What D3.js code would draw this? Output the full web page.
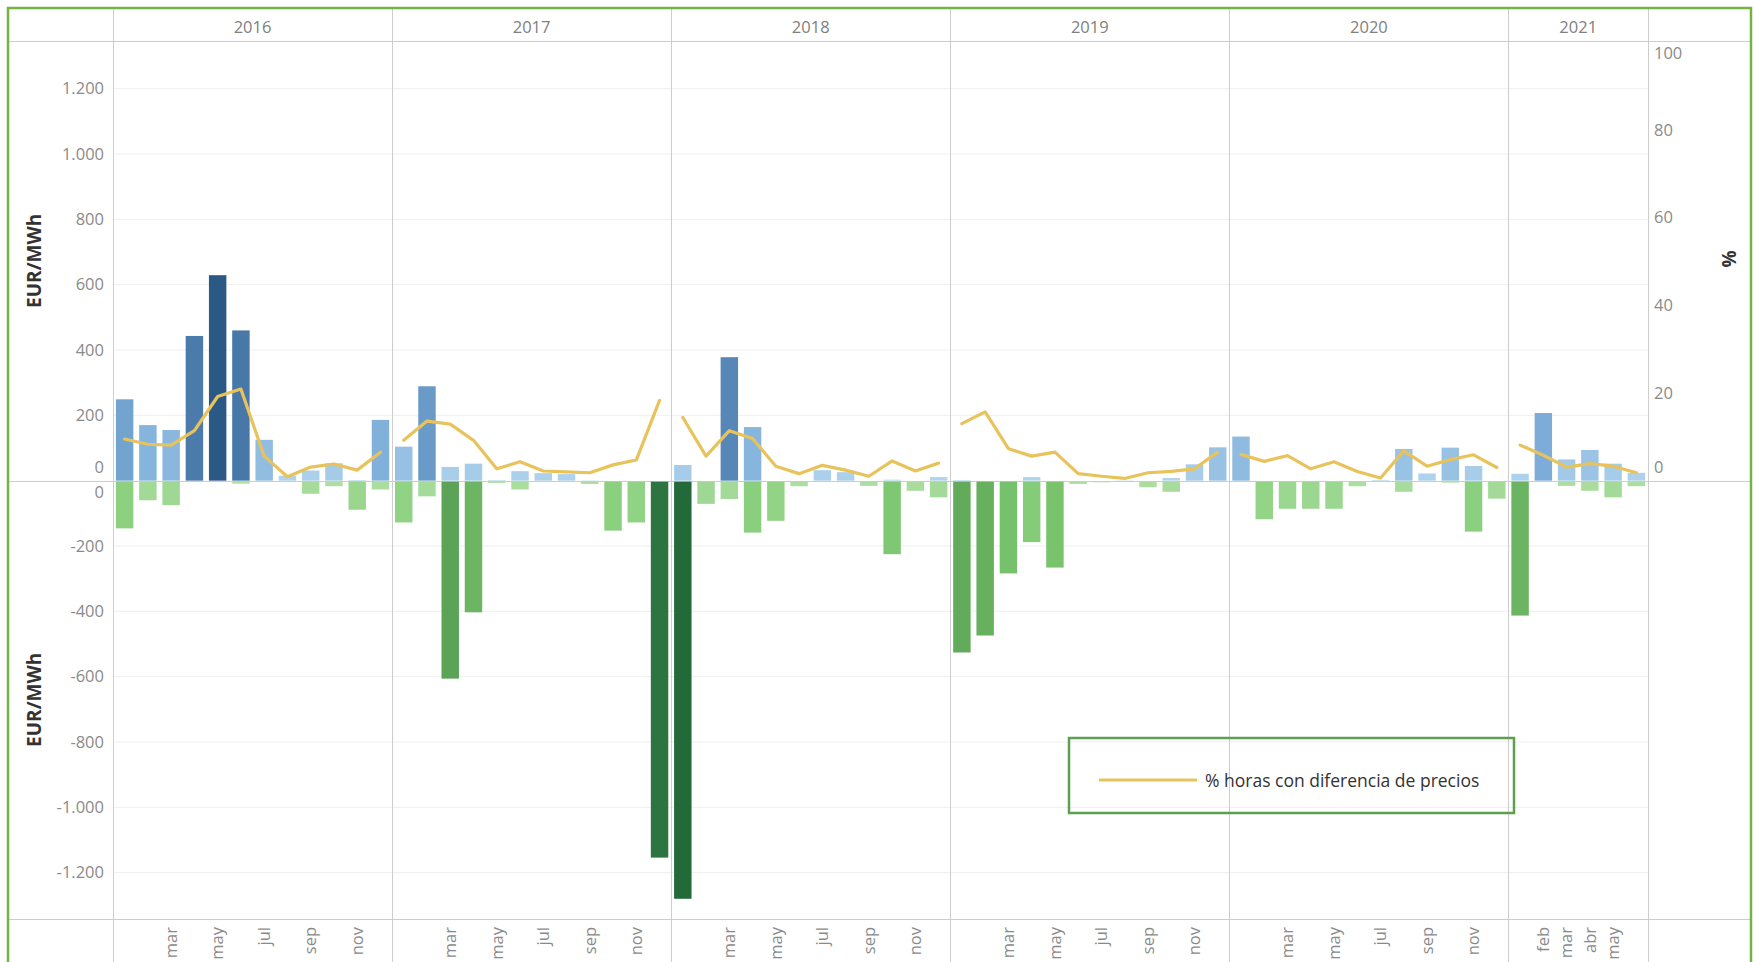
<!DOCTYPE html>
<html>
<head>
<meta charset="utf-8">
<script src="https://cdn.jsdelivr.net/npm/d3@7"></script>
<style>
  html, body { margin: 0; padding: 0; background: #fff; }
  svg { display: block; font-family: "Open Sans", "Noto Sans", sans-serif; }
</style>
</head>
<body>
<svg id="chart" width="1754" height="962"></svg>
<script>
// ---- data -------------------------------------------------------------
const years = [2016, 2017, 2018, 2019, 2020, 2021];
const monthsPerYear = [12, 12, 12, 12, 12, 6];
const monthNames = ["ene", "feb", "mar", "abr", "may", "jun", "jul", "ago", "sep", "oct", "nov", "dic"];

// months whose name is printed under the axis
const labeledMonths = [
  "2016-03", "2016-05", "2016-07", "2016-09", "2016-11",
  "2017-03", "2017-05", "2017-07", "2017-09", "2017-11",
  "2018-03", "2018-05", "2018-07", "2018-09", "2018-11",
  "2019-03", "2019-05", "2019-07", "2019-09", "2019-11",
  "2020-03", "2020-05", "2020-07", "2020-09", "2020-11",
  "2021-02", "2021-03", "2021-04", "2021-05"
];

// EUR/MWh, positive monthly price difference
const positiveDiff = [
  249, 170, 155, 443, 629, 460, 125, 15, 31, 53, 2, 186,   // 2016
  104, 289, 42, 52, 2, 29, 23, 20, 1, 0, 0, 0,             // 2017
  48, 0, 378, 164, 0, 0, 32, 26, 0, 3, 0, 11,              // 2018
  2, 0, 0, 11, 0, 0, 0, 1, 0, 8, 50, 102,                  // 2019
  135, 0, 0, 0, 0, 0, 2, 97, 22, 101, 45, 0,               // 2020
  21, 207, 65, 94, 52, 24                                  // 2021
];

// EUR/MWh, negative monthly price difference
const negativeDiff = [
  -143, -57, -72, 0, -1, -6, 0, 0, -37, -14, -86, -24,             // 2016
  -125, -45, -603, -400, -4, -24, -1, 0, -7, -150, -125, -1151,    // 2017
  -1277, -68, -53, -156, -120, -14, 0, 0, -13, -222, -28, -48,     // 2018
  -523, -471, -281, -185, -263, -7, -2, 0, -17, -31, 0, 0,         // 2019
  0, -115, -83, -83, -83, -14, 0, -31, 0, -3, -153, -52,           // 2020
  -410, 0, -13, -28, -48, -14                                      // 2021
];

// % of hours with a price difference
const pctHours = [
  9.5, 8.3, 8.1, 11.4, 19.2, 20.9, 5.6, 0.9, 3.1, 3.8, 2.4, 6.5,     // 2016
  9.2, 13.6, 12.9, 9.2, 2.7, 4.3, 2.2, 2.0, 1.8, 3.6, 4.7, 18.3,     // 2017
  14.4, 5.6, 11.4, 9.6, 3.3, 1.6, 3.5, 2.4, 1.0, 4.5, 2.2, 4.0,      // 2018
  13.0, 15.7, 7.3, 5.6, 6.5, 1.6, 1.0, 0.5, 1.8, 2.1, 2.7, 6.5,      // 2019
  6.0, 4.4, 5.7, 2.7, 4.3, 2.1, 0.6, 6.8, 3.3, 4.8, 5.9, 3.0,        // 2020
  8.1, 5.8, 3.1, 3.9, 3.3, 1.8                                       // 2021
];

const ticksTop = [0, 200, 400, 600, 800, 1000, 1200];
const ticksBottom = [0, -200, -400, -600, -800, -1000, -1200];
const ticksPct = [0, 20, 40, 60, 80, 100];
const axisTitle = "EUR/MWh";
const pctTitle = "%";
const legendLabel = "% horas con diferencia de precios";

// ---- build month records ---------------------------------------------
const months = [];
years.forEach((yr, yi) => {
  for (let m = 0; m < monthsPerYear[yi]; m++) {
    months.push({ year: yr, month: m, key: `${yr}-${String(m + 1).padStart(2, "0")}` });
  }
});
months.forEach((d, i) => {
  d.pos = positiveDiff[i];
  d.neg = negativeDiff[i];
  d.pct = pctHours[i];
});

// ---- layout -----------------------------------------------------------
const W = 1754, H = 962;
const frame = { left: 8, right: 1751, top: 8 };
const plot = { left: 113, right: 1648, top: 41, bottom: 919 };

const svg = d3.select("#chart");

const x = d3.scaleBand()
  .domain(months.map(d => d.key))
  .range([plot.left, plot.right])
  .paddingInner(0.25)
  .paddingOuter(0.125);
const step = x.step();
const bw = x.bandwidth();
const edge = key => x(key) - (step - bw) / 2;   // left edge of a month slot

// one continuous EUR/MWh scale shared by the upper and lower panes
const y = d3.scaleLinear().domain([-1342, 1346]).range([plot.bottom, plot.top]);
const y0 = y(0);
const yPct = d3.scaleLinear().domain([0, 100.3]).range([y0, plot.top]);

const blue = d3.scaleLinear()
  .domain([0, 190, 380, 629])
  .range(["#b3d6ef", "#80b0da", "#5687b7", "#2b5985"]);
const green = d3.scaleLinear()
  .domain([0, 60, 150, 280, 500, 1277])
  .range(["#b0dfa4", "#a1d996", "#8bd07e", "#76c16b", "#64ad5c", "#226a3a"]);

const es = d3.formatLocale({ decimal: ",", thousands: ".", grouping: [3], currency: ["", " €"], minus: "-" });
const fmt = es.format(",d");

// ---- gridlines --------------------------------------------------------
const gridVals = ticksTop.concat(ticksBottom).filter(v => v !== 0);
svg.append("g").selectAll("line").data(gridVals).join("line")
  .attr("x1", plot.left).attr("x2", plot.right)
  .attr("y1", d => y(d)).attr("y2", d => y(d))
  .attr("stroke", "#efefef").attr("stroke-width", 1);

// ---- frame lines (headers, pane dividers) -----------------------------
const lineColor = "#cdcdcd";
const hLines = [plot.top, y0, plot.bottom];
svg.append("g").selectAll("line").data(hLines).join("line")
  .attr("x1", frame.left).attr("x2", frame.right)
  .attr("y1", d => Math.round(d) + 0.5).attr("y2", d => Math.round(d) + 0.5)
  .attr("stroke", lineColor).attr("stroke-width", 1);

const firstKeys = years.map((yr) => `${yr}-01`);
const vLines = firstKeys.map(k => edge(k)).concat([plot.right]);
svg.append("g").selectAll("line").data(vLines).join("line")
  .attr("x1", d => Math.round(d) + 0.5).attr("x2", d => Math.round(d) + 0.5)
  .attr("y1", frame.top).attr("y2", H)
  .attr("stroke", lineColor).attr("stroke-width", 1);

// ---- bars -------------------------------------------------------------
svg.append("g").selectAll("rect").data(months.filter(d => d.pos > 0)).join("rect")
  .attr("x", d => x(d.key)).attr("width", bw)
  .attr("y", d => y(d.pos)).attr("height", d => y0 - y(d.pos))
  .attr("fill", d => blue(d.pos));

svg.append("g").selectAll("rect").data(months.filter(d => d.neg < 0)).join("rect")
  .attr("x", d => x(d.key)).attr("width", bw)
  .attr("y", y0 + 1).attr("height", d => y(d.neg) - y0)
  .attr("fill", d => green(-d.neg));

// ---- % line, one path per year pane -----------------------------------
const line = d3.line()
  .x(d => x(d.key) + bw / 2)
  .y(d => yPct(d.pct));
svg.append("g").selectAll("path").data(d3.groups(months, d => d.year)).join("path")
  .attr("d", d => line(d[1]))
  .attr("fill", "none")
  .attr("stroke", "#e8c35c")
  .attr("stroke-width", 3.2)
  .attr("stroke-linejoin", "round")
  .attr("stroke-linecap", "round");

// ---- year headers -----------------------------------------------------
svg.append("g").selectAll("text").data(years).join("text")
  .attr("x", (yr, i) => (vLines[i] + vLines[i + 1]) / 2)
  .attr("y", 26)
  .attr("text-anchor", "middle")
  .attr("dominant-baseline", "central")
  .attr("fill", "#808080")
  .attr("font-size", 16.5)
  .text(d => d);

// ---- left axes --------------------------------------------------------
function styleAxis(g) {
  g.select(".domain").remove();
  g.selectAll(".tick line").remove();
  g.selectAll(".tick text")
    .attr("fill", "#8a8a8a")
    .attr("font-size", 16.5)
    .attr("font-family", "\"Open Sans\", sans-serif");
}
const axTop = svg.append("g").attr("transform", "translate(114,0)")
  .call(d3.axisLeft(y).tickValues(ticksTop).tickFormat(fmt).tickSize(0).tickPadding(10))
  .call(styleAxis);
axTop.selectAll(".tick").filter(d => d === 0).select("text").attr("y", -13);

const axBottom = svg.append("g").attr("transform", "translate(114,0)")
  .call(d3.axisLeft(y).tickValues(ticksBottom).tickFormat(fmt).tickSize(0).tickPadding(10))
  .call(styleAxis);
axBottom.selectAll(".tick").filter(d => d === 0).select("text").attr("y", 12);

// ---- right % axis -----------------------------------------------------
const axPct = svg.append("g").attr("transform", `translate(${plot.right},0)`)
  .call(d3.axisRight(yPct).tickValues(ticksPct).tickSize(0).tickPadding(6))
  .call(styleAxis);
axPct.selectAll(".tick").filter(d => d === 100).select("text").attr("y", 11);
axPct.selectAll(".tick").filter(d => d === 0).select("text").attr("y", -13);

// ---- month labels -----------------------------------------------------
const axMonths = svg.append("g").attr("transform", `translate(0,${plot.bottom})`)
  .call(d3.axisBottom(x).tickValues(labeledMonths)
    .tickFormat(k => monthNames[+k.slice(5) - 1]).tickSize(0))
  .call(g => g.select(".domain").remove());
axMonths.selectAll(".tick text")
  .attr("transform", "rotate(-90)")
  .attr("text-anchor", "end")
  .attr("x", -8).attr("y", 0).attr("dy", "0.35em")
  .attr("fill", "#8a8a8a")
  .attr("font-size", 16.5)
  .attr("font-family", "\"Open Sans\", sans-serif");

// ---- axis titles ------------------------------------------------------
const titleStyle = sel => sel
  .attr("text-anchor", "middle")
  .attr("dominant-baseline", "central")
  .attr("font-weight", "bold")
  .attr("font-size", 19)
  .attr("fill", "#333");
svg.append("text").attr("transform", `translate(34,${(plot.top + y0) / 2}) rotate(-90)`)
  .text(axisTitle).call(titleStyle);
svg.append("text").attr("transform", `translate(34,${(y0 + plot.bottom) / 2}) rotate(-90)`)
  .text(axisTitle).call(titleStyle);
svg.append("text").attr("transform", `translate(1729,259) rotate(-90)`)
  .text(pctTitle).call(titleStyle);

// ---- legend -----------------------------------------------------------
const lg = svg.append("g");
lg.append("rect")
  .attr("x", 1069).attr("y", 738).attr("width", 445).attr("height", 75)
  .attr("fill", "none").attr("stroke", "#5e9f4f").attr("stroke-width", 2.5);
lg.append("line")
  .attr("x1", 1099).attr("x2", 1197).attr("y1", 780).attr("y2", 780)
  .attr("stroke", "#e8c35c").attr("stroke-width", 3.2);
lg.append("text")
  .attr("x", 1205).attr("y", 780)
  .attr("dominant-baseline", "central")
  .attr("font-size", 17.5)
  .attr("fill", "#333")
  .text(legendLabel);

// ---- outer frame ------------------------------------------------------
svg.append("rect")
  .attr("x", frame.left).attr("y", frame.top)
  .attr("width", frame.right - frame.left).attr("height", H)
  .attr("fill", "none").attr("stroke", "#74b244").attr("stroke-width", 2.5);
</script>
</body>
</html>
